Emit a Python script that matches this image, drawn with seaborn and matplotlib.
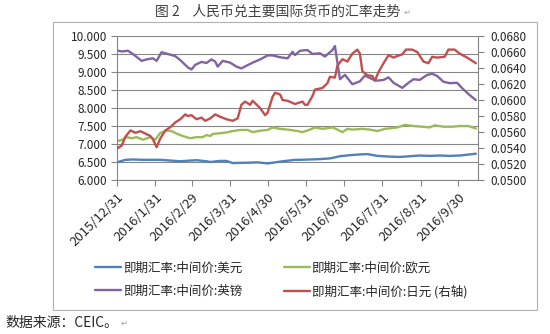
import matplotlib
matplotlib.use('Agg')
import matplotlib.pyplot as plt
import matplotlib.ticker as mticker
from matplotlib.patches import Rectangle
from matplotlib.text import Annotation
import pandas as pd
import seaborn as sns

sns.set_theme(style='white')
plt.rcParams['font.family'] = ['Noto Sans CJK SC', 'DejaVu Sans']

# ---------------- data ----------------
usd_dates = ['2015-12-31', '2016-01-07', '2016-01-13', '2016-01-21', '2016-02-04', '2016-02-12',
             '2016-02-20', '2016-02-28', '2016-03-04', '2016-03-12', '2016-03-15', '2016-03-23',
             '2016-03-28', '2016-04-02', '2016-04-14', '2016-04-22', '2016-04-30', '2016-05-08',
             '2016-05-12', '2016-05-22', '2016-05-26', '2016-06-03', '2016-06-11', '2016-06-19',
             '2016-06-27', '2016-07-05', '2016-07-13', '2016-07-19', '2016-07-27', '2016-08-06',
             '2016-08-14', '2016-08-22', '2016-08-30', '2016-09-07', '2016-09-15', '2016-09-23',
             '2016-10-01', '2016-10-09', '2016-10-14']
usd_vals = [6.49, 6.56, 6.57, 6.56, 6.56, 6.54, 6.52, 6.54, 6.55, 6.52, 6.50, 6.53,
            6.53, 6.47, 6.48, 6.49, 6.46, 6.50, 6.52, 6.56, 6.56, 6.57, 6.58, 6.60,
            6.66, 6.69, 6.71, 6.72, 6.67, 6.65, 6.64, 6.66, 6.68, 6.67, 6.68, 6.67,
            6.68, 6.71, 6.73]

eur_dates = ['2015-12-31', '2016-01-04', '2016-01-08', '2016-01-12', '2016-01-16', '2016-01-21',
             '2016-01-27', '2016-01-31', '2016-02-04', '2016-02-09', '2016-02-13', '2016-02-17',
             '2016-02-22', '2016-02-28', '2016-03-04', '2016-03-09', '2016-03-12', '2016-03-15',
             '2016-03-17', '2016-03-23', '2016-03-28', '2016-04-02', '2016-04-08', '2016-04-14',
             '2016-04-18', '2016-04-24', '2016-04-30', '2016-05-04', '2016-05-10', '2016-05-16',
             '2016-05-24', '2016-05-28', '2016-06-03', '2016-06-07', '2016-06-13', '2016-06-21',
             '2016-06-25', '2016-06-29', '2016-07-03', '2016-07-07', '2016-07-15', '2016-07-21',
             '2016-07-27', '2016-08-02', '2016-08-05', '2016-08-12', '2016-08-18', '2016-08-25',
             '2016-09-01', '2016-09-07', '2016-09-11', '2016-09-18', '2016-09-25', '2016-10-01',
             '2016-10-08', '2016-10-14']
eur_vals = [7.08, 7.11, 7.19, 7.16, 7.19, 7.12, 7.19, 7.12, 7.31, 7.37, 7.36, 7.29,
            7.22, 7.16, 7.19, 7.19, 7.25, 7.22, 7.28, 7.30, 7.32, 7.36, 7.39, 7.39,
            7.33, 7.37, 7.39, 7.46, 7.42, 7.40, 7.36, 7.33, 7.40, 7.46, 7.42, 7.46,
            7.40, 7.33, 7.42, 7.40, 7.42, 7.40, 7.36, 7.42, 7.43, 7.46, 7.53, 7.50,
            7.48, 7.46, 7.52, 7.48, 7.48, 7.50, 7.50, 7.43]

gbp_dates = ['2015-12-31', '2016-01-04', '2016-01-09', '2016-01-13', '2016-01-20', '2016-01-24',
             '2016-01-29', '2016-02-01', '2016-02-05', '2016-02-10', '2016-02-16', '2016-02-20',
             '2016-02-26', '2016-02-29', '2016-03-03', '2016-03-08', '2016-03-12', '2016-03-16',
             '2016-03-19', '2016-03-21', '2016-03-25', '2016-03-31', '2016-04-05', '2016-04-09',
             '2016-04-14', '2016-04-18', '2016-04-24', '2016-04-30', '2016-05-04', '2016-05-10',
             '2016-05-16', '2016-05-20', '2016-05-22', '2016-05-26', '2016-06-01', '2016-06-05',
             '2016-06-11', '2016-06-15', '2016-06-21', '2016-06-23', '2016-06-27', '2016-07-01',
             '2016-07-07', '2016-07-13', '2016-07-17', '2016-07-23', '2016-07-27', '2016-08-01',
             '2016-08-05', '2016-08-09', '2016-08-16', '2016-08-21', '2016-08-25', '2016-08-30',
             '2016-09-05', '2016-09-09', '2016-09-13', '2016-09-18', '2016-09-23', '2016-09-29',
             '2016-10-03', '2016-10-09', '2016-10-14']
gbp_vals = [9.60, 9.57, 9.59, 9.50, 9.31, 9.35, 9.38, 9.31, 9.55, 9.50, 9.44, 9.33,
            9.13, 9.07, 9.20, 9.28, 9.25, 9.35, 9.29, 9.15, 9.31, 9.26, 9.15, 9.10,
            9.19, 9.26, 9.35, 9.46, 9.46, 9.41, 9.38, 9.56, 9.47, 9.59, 9.61, 9.50,
            9.52, 9.43, 9.61, 9.72, 8.80, 8.92, 8.66, 8.74, 8.90, 8.80, 8.76, 8.78,
            8.85, 8.70, 8.56, 8.70, 8.80, 8.78, 8.92, 8.95, 8.89, 8.73, 8.69, 8.70,
            8.55, 8.36, 8.22]

jpy_dates = ['2015-12-31', '2016-01-04', '2016-01-07', '2016-01-11', '2016-01-15', '2016-01-19',
             '2016-01-23', '2016-01-27', '2016-01-29', '2016-02-01', '2016-02-04', '2016-02-08',
             '2016-02-12', '2016-02-16', '2016-02-20', '2016-02-24', '2016-02-26', '2016-02-29',
             '2016-03-04', '2016-03-08', '2016-03-11', '2016-03-15', '2016-03-19', '2016-03-23',
             '2016-03-28', '2016-04-02', '2016-04-06', '2016-04-09', '2016-04-12', '2016-04-16',
             '2016-04-18', '2016-04-22', '2016-04-24', '2016-04-28', '2016-04-30', '2016-05-04',
             '2016-05-06', '2016-05-10', '2016-05-12', '2016-05-16', '2016-05-22', '2016-05-28',
             '2016-05-30', '2016-06-01', '2016-06-05', '2016-06-07', '2016-06-13', '2016-06-17',
             '2016-06-19', '2016-06-23', '2016-06-25', '2016-06-29', '2016-07-03', '2016-07-07',
             '2016-07-11', '2016-07-13', '2016-07-15', '2016-07-19', '2016-07-23', '2016-07-25',
             '2016-07-28', '2016-08-01', '2016-08-05', '2016-08-09', '2016-08-12', '2016-08-16',
             '2016-08-19', '2016-08-24', '2016-08-28', '2016-09-02', '2016-09-06', '2016-09-09',
             '2016-09-13', '2016-09-19', '2016-09-22', '2016-09-27', '2016-10-01', '2016-10-07',
             '2016-10-11', '2016-10-14']
jpy_vals = [0.0539, 0.0543, 0.0554, 0.0562, 0.0559, 0.0561, 0.0558, 0.0555, 0.0551, 0.0541,
            0.0552, 0.0562, 0.0566, 0.0572, 0.0576, 0.0582, 0.0580, 0.0581, 0.0576, 0.0578,
            0.0574, 0.0577, 0.0582, 0.0579, 0.0576, 0.0574, 0.0577, 0.0594, 0.0598, 0.0594,
            0.0599, 0.0593, 0.0590, 0.0581, 0.0584, 0.0604, 0.0609, 0.0607, 0.0600, 0.0599,
            0.0595, 0.0598, 0.0594, 0.0594, 0.0605, 0.0613, 0.0615, 0.0621, 0.0629, 0.0628,
            0.0643, 0.0651, 0.0648, 0.0658, 0.0663, 0.0658, 0.0636, 0.0631, 0.0630, 0.0624,
            0.0635, 0.0646, 0.0656, 0.0653, 0.0655, 0.0657, 0.0663, 0.0663, 0.0660, 0.0648,
            0.0646, 0.0654, 0.0653, 0.0654, 0.0663, 0.0663, 0.0658, 0.0653, 0.0649, 0.0646]

series_labels = ['即期汇率:中间价:美元', '即期汇率:中间价:欧元',
                 '即期汇率:中间价:英镑', '即期汇率:中间价:日元 (右轴)']
tick_dates = ['2015-12-31', '2016-01-31', '2016-02-29', '2016-03-31', '2016-04-30',
              '2016-05-31', '2016-06-30', '2016-07-31', '2016-08-31', '2016-09-30']
tick_labels = ['2015/12/31', '2016/1/31', '2016/2/29', '2016/3/31', '2016/4/30',
               '2016/5/31', '2016/6/30', '2016/7/31', '2016/8/31', '2016/9/30']
left_ticks = [6.0, 6.5, 7.0, 7.5, 8.0, 8.5, 9.0, 9.5, 10.0]
right_ticks = [0.050, 0.052, 0.054, 0.056, 0.058, 0.060, 0.062, 0.064, 0.066, 0.068]
title_text = '图 2    人民币兑主要国际货币的汇率走势'
source_text = '数据来源：CEIC。'
para_mark = '↵'

# ---------------- style ----------------
C_USD, C_EUR, C_GBP, C_JPY = '#4F81BD', '#9BBB59', '#8064A2', '#C0504D'
AXIS_C = '#868686'
TXT_C = '#262626'
LW = 1.7

fig = plt.figure(figsize=(5.5, 3.34), dpi=100)
fig.patch.set_facecolor('white')

# outer chart frame
fig.patches.append(Rectangle((53 / 550, 1 - 310 / 334), 484 / 550, 288 / 334,
                             transform=fig.transFigure, fill=False,
                             edgecolor='#b0b0b0', linewidth=0.8))

ax = fig.add_axes([116.7 / 550, 1 - 180 / 334, 361 / 550, 144 / 334])
ax2 = ax.twinx()
ax.set_facecolor('none')

sns.lineplot(x=pd.to_datetime(usd_dates), y=usd_vals, ax=ax, color=C_USD, lw=LW, label=series_labels[0])
sns.lineplot(x=pd.to_datetime(eur_dates), y=eur_vals, ax=ax, color=C_EUR, lw=LW, label=series_labels[1])
sns.lineplot(x=pd.to_datetime(gbp_dates), y=gbp_vals, ax=ax, color=C_GBP, lw=LW, label=series_labels[2])
sns.lineplot(x=pd.to_datetime(jpy_dates), y=jpy_vals, ax=ax2, color=C_JPY, lw=LW, label=series_labels[3])

h1, l1 = ax.get_legend_handles_labels()
h2, l2 = ax2.get_legend_handles_labels()
for a in (ax, ax2):
    if a.get_legend() is not None:
        a.get_legend().remove()

ax.set_xlim(pd.Timestamp('2015-12-31'), pd.Timestamp('2016-10-15 12:00'))
ax.set_ylim(6.0, 10.0)
ax2.set_ylim(0.050, 0.068)

ax.set_yticks(left_ticks)
ax.yaxis.set_major_formatter(mticker.FormatStrFormatter('%.3f'))
ax2.set_yticks(right_ticks)
ax2.yaxis.set_major_formatter(mticker.FormatStrFormatter('%.4f'))

ax.set_xticks(pd.to_datetime(tick_dates))
ax.set_xticklabels(tick_labels, rotation=45, ha='right', va='top',
                   rotation_mode='anchor')

ax.set_xlabel('')
ax.set_ylabel('')
ax2.set_ylabel('')

ax.yaxis.grid(True, color=AXIS_C, linewidth=0.8)
ax.xaxis.grid(False)
ax2.grid(False)

for s in ('top', 'right'):
    ax.spines[s].set_visible(False)
for s in ('top', 'left', 'bottom'):
    ax2.spines[s].set_visible(False)
ax.spines['left'].set_color(AXIS_C)
ax.spines['bottom'].set_color(AXIS_C)
ax2.spines['right'].set_color(AXIS_C)
for sp in (ax.spines['left'], ax.spines['bottom'], ax2.spines['right']):
    sp.set_linewidth(0.8)

ax.tick_params(axis='y', left=True, direction='out', length=4, width=0.8, color=AXIS_C,
               labelsize=8.5, labelcolor=TXT_C, pad=3)
ax.tick_params(axis='x', bottom=True, direction='out', length=4, width=0.8, color=AXIS_C,
               labelsize=9.5, labelcolor=TXT_C, pad=4)
ax2.tick_params(axis='y', right=True, direction='out', length=4, width=0.8, color=AXIS_C,
                labelsize=8.5, labelcolor=TXT_C, pad=5)

handles = [h1[0], h1[2], h1[1], h2[0]]
labels = [l1[0], l1[2], l1[1], l2[0]]
fig.legend(handles, labels, ncol=2, loc='center', bbox_to_anchor=(281 / 550, 1 - 280 / 334),
           frameon=False, fontsize=9, handlelength=2.1, handletextpad=0.15,
           columnspacing=3.3, labelspacing=0.8, labelcolor=TXT_C)

t_title = fig.text(278 / 550, 1 - 12 / 334, title_text, ha='center', va='center',
                   fontsize=10, color='#404040')
t_src = fig.text(5 / 550, 1 - 323 / 334, source_text, ha='left', va='center',
                 fontsize=10, color=TXT_C)
for t in (t_title, t_src):
    ann = Annotation(para_mark, xy=(1.0, 0.45), xycoords=t,
                     xytext=(2, 0), textcoords='offset points',
                     fontsize=6, color='#a0a0a0', ha='left', va='center',
                     family=['DejaVu Sans'])
    fig.add_artist(ann)

fig.savefig('out.png', dpi=100, facecolor='white')
